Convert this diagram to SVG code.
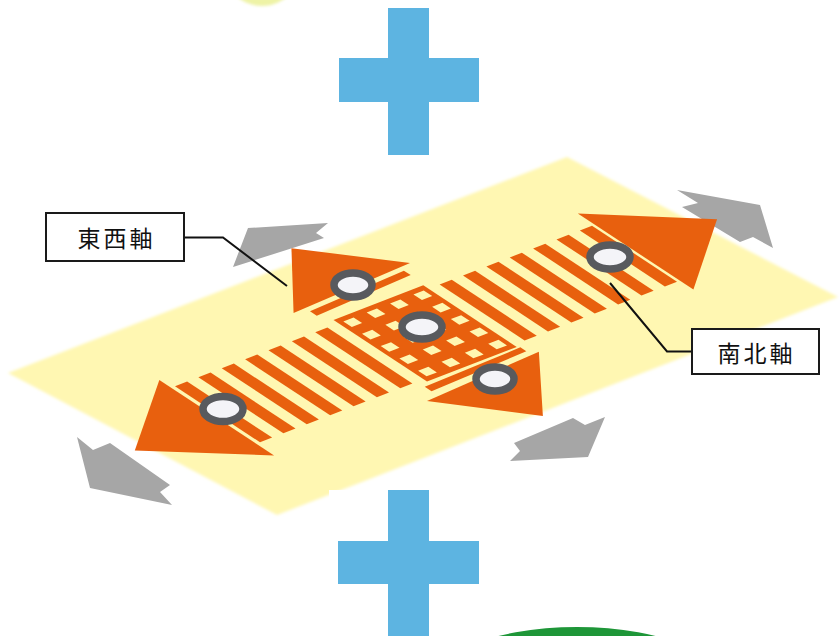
<svg xmlns="http://www.w3.org/2000/svg" width="839" height="636" viewBox="0 0 839 636">
  <defs>
    <style>
      .plus { fill: #5DB4E1; }
      .orange { fill: #E8600E; }
      .cell { fill: #FFF7B2; }
      .move { fill: #A6A6A6; }
      .ring { fill: #F4F4F8; stroke: #585A5E; stroke-width: 7.5; }
      .label-box { fill: #FFFFFF; stroke: #1A1A1A; stroke-width: 2; }
      .label { font-family: "Noto Sans CJK JP", "Noto Sans CJK SC", sans-serif; font-size: 23px; fill: #111111; letter-spacing: 3px; }
      .leader { fill: none; stroke: #111111; stroke-width: 2; }
    </style>
    <filter id="soft" x="-5%" y="-5%" width="110%" height="110%">
      <feGaussianBlur stdDeviation="1.5"/>
    </filter>
  </defs>

  <rect width="839" height="636" fill="#FFFFFF"/>

  <!-- partial shapes at the top and bottom edges -->
  <ellipse id="top-shape" cx="262" cy="-40" rx="42" ry="46" fill="#EEF3A6" filter="url(#soft)"/>
  <ellipse id="bottom-shape" cx="577" cy="697" rx="160" ry="70" fill="#1E9638"/>

  <!-- upper plus -->
  <g id="plus-top">
    <rect class="plus" x="388" y="8" width="41" height="147"/>
    <rect class="plus" x="339" y="58" width="140" height="44"/>
  </g>

  <!-- ground plane -->
  <g id="plane">
    <polygon points="567,157 838,297 277,515 8,373" fill="#FFF7B2" filter="url(#soft)"/>
  </g>

  <!-- grey movement arrows around the plane -->
  <g id="move-arrows">
    <polygon class="move" points="233,267 248,228 328,223 316,233 324,238"/>
    <polygon class="move" points="677,190 760,205 773,248 753,237 740,242 682,207 698,203"/>
    <polygon class="move" points="77,437 93,450 110,443 170,485 160,492 172,505 90,488"/>
    <polygon class="move" points="605,417 588,457 510,461 520,451 514,443 573,418 585,425"/>
  </g>

  <!-- axes drawn in plan coordinates: x runs north-south, y runs east-west -->
  <g id="axes" transform="matrix(0.935,-0.36,0.85,0.56,426,334)">
    <g id="ns-axis" class="orange">
      <rect x="60" y="-50" width="13" height="100"/>
      <rect x="85" y="-50" width="13" height="100"/>
      <rect x="110" y="-50" width="13" height="100"/>
      <rect x="135" y="-50" width="13" height="100"/>
      <rect x="160" y="-50" width="13" height="100"/>
      <rect x="185" y="-50" width="13" height="100"/>
      <rect x="210" y="-50" width="13" height="100"/>
      <rect x="-73" y="-50" width="13" height="100"/>
      <rect x="-98" y="-50" width="13" height="100"/>
      <rect x="-123" y="-50" width="13" height="100"/>
      <rect x="-148" y="-50" width="13" height="100"/>
      <rect x="-173" y="-50" width="13" height="100"/>
      <rect x="-198" y="-50" width="13" height="100"/>
      <rect x="-223" y="-50" width="13" height="100"/>
      <polygon points="226,-70 314,-3 226,66"/>
      <polygon points="-227,-64 -316,5 -227,71"/>
    </g>
    <g id="ew-axis" class="orange">
      <polygon points="-68,-81 62,-87 -3,-155"/>
      <polygon points="-55,-76 50,-81 50,-73 -55,-68"/>
      <polygon points="-68,76 58,69 -5,143"/>
      <polygon points="-55,59 50,56 50,63 -55,67"/>
    </g>
    <g id="checker">
      <rect class="orange" x="-48" y="-56" width="96" height="110"/>
      <g class="cell">
        <rect x="-43" y="-50" width="11" height="10"/>
        <rect x="-18" y="-50" width="11" height="10"/>
        <rect x="7" y="-50" width="11" height="10"/>
        <rect x="32" y="-50" width="11" height="10"/>
        <rect x="-43" y="-28" width="11" height="10"/>
        <rect x="-18" y="-28" width="11" height="10"/>
        <rect x="7" y="-28" width="11" height="10"/>
        <rect x="32" y="-28" width="11" height="10"/>
        <rect x="-43" y="-6" width="11" height="10"/>
        <rect x="-18" y="-6" width="11" height="10"/>
        <rect x="7" y="-6" width="11" height="10"/>
        <rect x="32" y="-6" width="11" height="10"/>
        <rect x="-43" y="16" width="11" height="10"/>
        <rect x="-18" y="16" width="11" height="10"/>
        <rect x="7" y="16" width="11" height="10"/>
        <rect x="32" y="16" width="11" height="10"/>
        <rect x="-43" y="38" width="11" height="10"/>
        <rect x="-18" y="38" width="11" height="10"/>
        <rect x="7" y="38" width="11" height="10"/>
        <rect x="32" y="38" width="11" height="10"/>
      </g>
    </g>
  </g>

  <!-- ring markers -->
  <g id="markers">
    <ellipse class="ring" cx="353" cy="285" rx="19" ry="12"/>
    <ellipse class="ring" cx="422" cy="327" rx="20" ry="12"/>
    <ellipse class="ring" cx="495" cy="379" rx="19" ry="12"/>
    <ellipse class="ring" cx="610" cy="257" rx="20" ry="12"/>
    <ellipse class="ring" cx="223" cy="409" rx="20" ry="12.5"/>
  </g>

  <!-- lower plus on its white backing -->
  <g id="plus-bottom">
    <rect x="329" y="490" width="152" height="146" fill="#FFFFFF"/>
    <rect class="plus" x="388" y="490" width="41" height="146"/>
    <rect class="plus" x="338" y="541" width="141" height="43"/>
  </g>

  <!-- leader lines -->
  <g id="connectors">
    <polyline class="leader" points="184,237.5 223,237.5 287,286"/>
    <polyline class="leader" points="692,351.5 667,351.5 610,283"/>
  </g>

  <g id="label-ew">
    <rect class="label-box" x="46" y="213" width="138" height="48"/>
    <text class="label" x="116.5" y="237" text-anchor="middle" dominant-baseline="central">東西軸</text>
  </g>
  <g id="label-ns">
    <rect class="label-box" x="692" y="329" width="127" height="45"/>
    <text class="label" x="756.5" y="352" text-anchor="middle" dominant-baseline="central">南北軸</text>
  </g>
</svg>
